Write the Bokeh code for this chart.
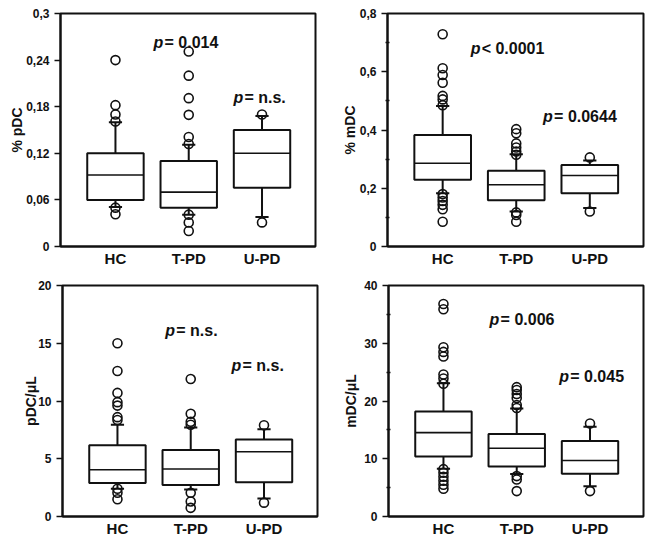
from bokeh.plotting import figure
from bokeh.layouts import column, row
from bokeh.models import Range1d, FixedTicker
from bokeh.core.properties import value
from bokeh.embed import file_html
from bokeh.resources import INLINE

# ---------------- data ----------------
groups = ["HC", "T-PD", "U-PD"]
group_x = [1, 2, 3]

# Panel A: % pDC
a_q1 = [0.060, 0.050, 0.0755]
a_med = [0.092, 0.070, 0.120]
a_q3 = [0.120, 0.110, 0.150]
a_lo = [0.051, 0.041, 0.038]
a_hi = [0.160, 0.131, 0.168]
a_out = [[0.240, 0.182, 0.170, 0.161, 0.050, 0.0415],
         [0.251, 0.220, 0.191, 0.1695, 0.141, 0.132, 0.041, 0.031, 0.020],
         [0.170, 0.031]]
a_ticks = [0, 0.06, 0.12, 0.18, 0.24, 0.3]
a_labels = ["0", "0,06", "0,12", "0,18", "0,24", "0,3"]

# Panel B: % mDC
b_q1 = [0.229, 0.159, 0.183]
b_med = [0.286, 0.212, 0.244]
b_q3 = [0.383, 0.260, 0.280]
b_lo = [0.183, 0.120, 0.132]
b_hi = [0.482, 0.317, 0.295]
b_out = [[0.729, 0.612, 0.589, 0.562, 0.517, 0.505, 0.485, 0.180, 0.168, 0.156, 0.143, 0.128, 0.085],
         [0.403, 0.389, 0.354, 0.340, 0.326, 0.315, 0.117, 0.108, 0.085],
         [0.306, 0.120]]
b_ticks = [0, 0.2, 0.4, 0.6, 0.8]
b_labels = ["0", "0,2", "0,4", "0,6", "0,8"]
b_minor = [0.1, 0.3, 0.5, 0.7]

# Panel C: pDC/µL
c_q1 = [2.89, 2.73, 2.96]
c_med = [4.05, 4.11, 5.60]
c_q3 = [6.16, 5.75, 6.67]
c_lo = [2.40, 2.33, 1.55]
c_hi = [7.95, 7.70, 7.56]
c_out = [[15.0, 12.6, 10.7, 9.9, 9.6, 8.6, 8.35, 2.4, 2.05, 1.5],
         [11.9, 8.9, 8.2, 7.95, 2.05, 1.3, 0.75],
         [7.9, 1.2]]
c_ticks = [0, 5, 10, 15, 20]
c_labels = ["0", "5", "10", "15", "20"]

# Panel D: mDC/µL
d_q1 = [10.38, 8.66, 7.40]
d_med = [14.52, 11.82, 9.70]
d_q3 = [18.19, 14.29, 13.08]
d_lo = [8.26, 7.34, 5.22]
d_hi = [23.06, 18.70, 15.55]
d_out = [[36.8, 35.9, 29.3, 28.5, 27.7, 24.6, 23.9, 23.0, 8.2, 7.57, 6.88, 6.2, 5.5, 4.8],
         [22.4, 21.9, 21.2, 20.5, 19.3, 18.8, 7.0, 6.4, 4.4],
         [16.1, 4.4]]
d_ticks = [0, 10, 20, 30, 40]
d_labels = ["0", "10", "20", "30", "40"]
d_minor = [5, 15, 25, 35]

FONT = "Liberation Sans"
INK = "#111111"
BOX_W = 0.77
CAP_W = 0.18


def panel(q1, med, q3, lo, hi, outs, ticks, tlabels, minor, ymax, ylabel,
          width, height, mbl, mbr, mbt, mbb, label_standoff, notes):
    p = figure(width=width, height=height, output_backend="svg", toolbar_location=None,
               x_range=Range1d(0.25, 3.73), y_range=Range1d(0, ymax),
               min_border_left=mbl, min_border_right=mbr,
               min_border_top=mbt, min_border_bottom=mbb)
    p.grid.visible = False
    p.outline_line_color = INK
    p.outline_line_width = 2
    p.background_fill_color = "white"
    p.border_fill_color = "white"

    # whiskers
    p.segment(x0=group_x, y0=q3, x1=group_x, y1=hi, line_color=INK, line_width=2)
    p.segment(x0=group_x, y0=q1, x1=group_x, y1=lo, line_color=INK, line_width=2)
    p.segment(x0=[g - CAP_W / 2 for g in group_x], y0=hi,
              x1=[g + CAP_W / 2 for g in group_x], y1=hi, line_color=INK, line_width=2)
    p.segment(x0=[g - CAP_W / 2 for g in group_x], y0=lo,
              x1=[g + CAP_W / 2 for g in group_x], y1=lo, line_color=INK, line_width=2)
    # boxes
    p.vbar(x=group_x, bottom=q1, top=q3, width=BOX_W, fill_color="white",
           line_color=INK, line_width=2)
    p.segment(x0=[g - BOX_W / 2 for g in group_x], y0=med,
              x1=[g + BOX_W / 2 for g in group_x], y1=med, line_color=INK, line_width=1.6)
    # outliers
    ox, oy = [], []
    for g, vals in zip(group_x, outs):
        ox += [g] * len(vals)
        oy += vals
    p.scatter(ox, oy, marker="circle", size=9, fill_color="white", fill_alpha=0.0,
              line_color=INK, line_width=1.6)

    # p-value notes
    for (nx, ny, rest) in notes:
        p.text(x=[nx], y=[ny], text=["p"], text_font=value(FONT), text_font_size="16px",
               text_font_style="bold italic", text_color=INK, text_align="left",
               text_baseline="alphabetic")
        p.text(x=[nx], y=[ny], text=[rest], text_font=value(FONT), text_font_size="16px",
               text_font_style="bold", text_color=INK, text_align="left",
               text_baseline="alphabetic", x_offset=11)

    # x axis
    xa = p.xaxis[0]
    xa.ticker = FixedTicker(ticks=group_x)
    xa.major_label_overrides = {g: n for g, n in zip(group_x, groups)}
    xa.major_tick_out = 0
    xa.major_tick_in = 0
    xa.minor_tick_out = 0
    xa.minor_tick_in = 0
    xa.axis_line_color = INK
    xa.axis_line_width = 2
    xa.major_label_text_font = FONT
    xa.major_label_text_font_style = "bold"
    xa.major_label_text_font_size = "15px"
    xa.major_label_text_color = INK
    xa.major_label_standoff = 3

    # y axis
    ya = p.yaxis[0]
    ya.ticker = FixedTicker(ticks=ticks, minor_ticks=minor)
    ya.major_label_overrides = {t: l for t, l in zip(ticks, tlabels)}
    ya.axis_line_color = INK
    ya.axis_line_width = 2
    ya.major_tick_out = 6
    ya.major_tick_in = 0
    ya.major_tick_line_width = 1.5
    ya.major_tick_line_color = INK
    ya.minor_tick_in = 2
    ya.minor_tick_out = 2
    ya.minor_tick_line_width = 1.5
    ya.minor_tick_line_color = INK if minor else None
    ya.major_label_text_font = FONT
    ya.major_label_text_font_style = "bold"
    ya.major_label_text_font_size = "12px"
    ya.major_label_text_color = INK
    ya.major_label_standoff = 5
    ya.axis_label = ylabel
    ya.axis_label_text_font = FONT
    ya.axis_label_text_font_style = "bold"
    ya.axis_label_text_font_size = "14px"
    ya.axis_label_text_color = INK
    ya.axis_label_standoff = label_standoff
    return p


p1 = panel(a_q1, a_med, a_q3, a_lo, a_hi, a_out, a_ticks, a_labels, [], 0.3, "% pDC",
           328, 270, 60, 13, 13, 24, -2,
           [(1.52, 0.263, "= 0.014"), (2.61, 0.192, "= n.s.")])
p2 = panel(b_q1, b_med, b_q3, b_lo, b_hi, b_out, b_ticks, b_labels, b_minor, 0.8, "% mDC",
           320, 270, 59, 5, 13, 24, -1,
           [(1.38, 0.680, "< 0.0001"), (2.365, 0.446, "= 0.0644")])
p3 = panel(c_q1, c_med, c_q3, c_lo, c_hi, c_out, c_ticks, c_labels, [], 20, "pDC/\u03bcL",
           328, 269, 62, 11, 15, 23, -4,
           [(1.653, 16.1, "= n.s."), (2.557, 13.1, "= n.s.")])
p4 = panel(d_q1, d_med, d_q3, d_lo, d_hi, d_out, d_ticks, d_labels, d_minor, 40, "mDC/\u03bcL",
           320, 269, 60, 5, 14, 23, 2,
           [(1.63, 34.1, "= 0.006"), (2.58, 24.2, "= 0.045")])

layout = column(row(p1, p2, spacing=0), row(p3, p4, spacing=0), spacing=0)
open("out.html", "w").write(file_html(layout, INLINE))
